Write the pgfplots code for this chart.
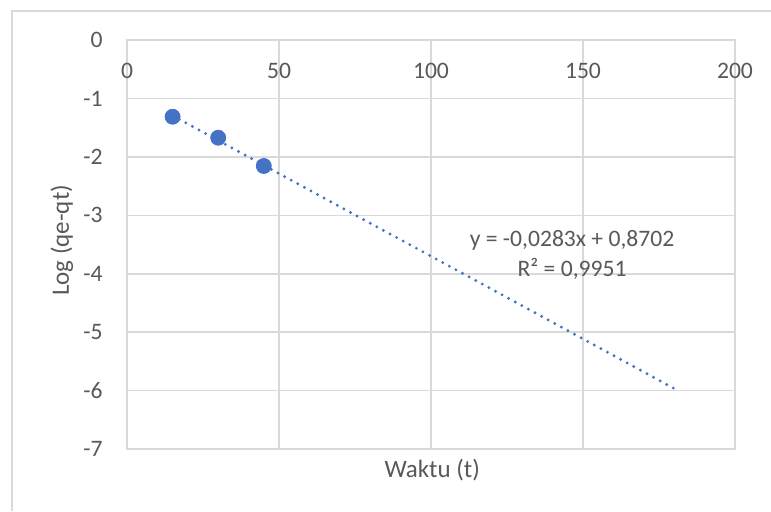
\documentclass[border=0pt]{standalone}
\usepackage{pgfplots}
\pgfplotsset{compat=1.18}
\usepackage{fontspec}
\setmainfont{Carlito}
\definecolor{txtgray}{HTML}{595959}
\definecolor{gridgray}{HTML}{D9D9D9}
\definecolor{xlblue}{HTML}{4472C4}
\begin{document}
\begin{tikzpicture}
\useasboundingbox (0,0) rectangle (385.5pt,255.5pt);
\fill[white] (0,0) rectangle (385.5pt,255.5pt);
\draw[gridgray, line width=0.8pt] (6pt,0) -- (6pt,250pt) -- (385.5pt,250pt);
\begin{axis}[
  at={(63.5pt,31pt)}, anchor=south west,
  scale only axis, width=304pt, height=204.5pt,
  xmin=0, xmax=200, ymin=-7, ymax=0,
  xtick={0,50,100,150,200}, ytick={-7,-6,-5,-4,-3,-2,-1,0},
  xticklabel pos=upper,
  major tick length=0pt,
  grid=major,
  major grid style={gridgray, line width=0.8pt},
  axis line style={gridgray, line width=0.8pt},
  /pgf/number format/assume math mode=true,
  ticklabel style={font=\fontsize{11.8}{14}\selectfont, text=txtgray, inner sep=0pt},
  xticklabel style={anchor=center, yshift=-15.5pt},
  yticklabel style={anchor=east, xshift=-12pt},
  xlabel={Waktu (t)},
  ylabel={Log (qe-qt)},
  label style={font=\fontsize{12.5}{15}\selectfont, text=txtgray},
  xlabel style={at={(axis description cs:0.502,-0.051)}, anchor=center},
  ylabel style={at={(axis description cs:-0.107,0.51)}, anchor=center, rotate=0},
  clip=false,
]
\addplot[xlblue, line width=1.6pt, line cap=round, dash pattern=on 0pt off 3.75pt] coordinates {(15,-1.2947) (180,-5.9642)};
\addplot[only marks, mark=*, mark size=3.75pt, mark options={fill=xlblue, draw=xlblue}] coordinates {(15,-1.313) (30,-1.672) (45,-2.156)};
\node[align=center, font=\fontsize{11.8}{15}\selectfont, text=txtgray, inner sep=0pt] at (axis cs:146.4,-3.68) {y = -0,0283x + 0,8702\\R² = 0,9951};
\end{axis}
\end{tikzpicture}
\end{document}
